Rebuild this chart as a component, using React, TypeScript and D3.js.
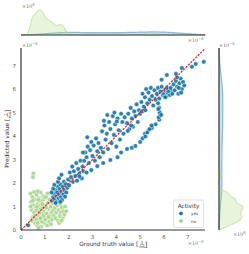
import React, { useEffect, useRef } from "react";
import * as d3 from "d3";

// Activity categories and their share of compounds (used for marginal density weighting)
const categories = ["yes", "no"];
const hueShare = [0.4, 0.6];
const bwAdjust = [1, 0.5];
const tickValues = [0, 1, 2, 3, 4, 5, 6, 7];

// [ground truth, predicted] in units of 1e-8
const yesPoints: [number, number][] = [
  [0.3, 0.2],
  [1.30, 1.25], [1.35, 1.40], [1.38, 1.55], [1.42, 1.30], [1.45, 1.70], [1.48, 1.45], [1.50, 1.20], [1.52, 1.60],
  [1.55, 1.85], [1.58, 1.35], [1.60, 1.50], [1.62, 1.75], [1.65, 1.95], [1.68, 1.40], [1.70, 1.62], [1.72, 1.28],
  [1.75, 1.85], [1.78, 1.52], [1.80, 2.05], [1.82, 1.70], [1.85, 1.42], [1.88, 1.95], [1.90, 1.60], [1.40, 1.92],
  [1.35, 1.75], [1.55, 2.05], [1.45, 1.15], [1.65, 1.20], [1.28, 1.60], [1.95, 1.80], [1.60, 2.20], [1.70, 2.35],
  [1.98, 2.15], [2.02, 1.90], [2.05, 2.45], [2.10, 2.25], [2.15, 2.70], [2.18, 2.05], [2.22, 2.50], [2.28, 2.30],
  [2.32, 2.85], [2.35, 2.10], [2.40, 2.60], [2.45, 2.40], [2.50, 2.95], [2.55, 2.20], [2.58, 2.70], [2.62, 2.50],
  [2.45, 2.28], [2.75, 2.45], [2.95, 2.55], [3.20, 2.72], [3.45, 2.85], [3.75, 2.98], [4.05, 3.10], [4.20, 3.30],
  [4.45, 3.45], [4.65, 3.50], [4.80, 3.58], [5.00, 3.75], [5.10, 3.90], [5.20, 4.10], [5.35, 4.25], [5.50, 4.35],
  [5.65, 4.50], [5.80, 4.70], [5.85, 4.95], [5.80, 5.20], [5.75, 5.40],
  [2.65, 2.95], [2.70, 3.30], [2.75, 3.10], [2.80, 3.55], [2.85, 2.85], [2.90, 3.40], [2.95, 3.75], [3.00, 3.15],
  [3.05, 3.60], [3.10, 2.95], [3.15, 3.90], [3.20, 3.35], [3.25, 3.70], [3.30, 3.10], [2.60, 3.30], [2.78, 3.95],
  [3.35, 3.50], [3.40, 4.20], [3.45, 3.30], [3.50, 4.45], [3.55, 3.85], [3.60, 4.10], [3.65, 3.45], [3.70, 4.60],
  [3.75, 4.30], [3.80, 3.70], [3.85, 4.85], [3.90, 4.05], [3.95, 4.50], [4.00, 3.55], [4.05, 4.75], [4.10, 4.25],
  [4.15, 3.85], [4.20, 4.95], [4.25, 4.60], [4.30, 4.10], [4.35, 4.80], [3.48, 4.65], [3.62, 4.90], [3.92, 5.00],
  [4.02, 4.62],
  [4.45, 4.55], [4.50, 4.95], [4.55, 4.30], [4.60, 5.20], [4.65, 4.75], [4.70, 4.40], [4.75, 5.05], [4.80, 4.85],
  [4.85, 5.35], [4.90, 4.60], [4.95, 5.10], [5.00, 4.95], [4.48, 4.22], [4.62, 4.45],
  [5.05, 5.45], [5.10, 5.80], [5.15, 5.25], [5.20, 5.65], [5.25, 6.00], [5.30, 5.40], [5.35, 5.85], [5.40, 5.55],
  [5.45, 6.05], [5.50, 5.70], [5.55, 5.30], [5.60, 5.95], [5.65, 5.55], [5.70, 5.80], [5.75, 6.05], [5.80, 5.60],
  [5.85, 5.90], [5.90, 6.10], [5.95, 5.75], [5.08, 5.05], [5.22, 5.10],
  [6.00, 5.80], [6.05, 5.95], [6.10, 5.70], [6.15, 5.85], [6.20, 6.00], [6.25, 5.75], [6.30, 5.90], [6.05, 5.65],
  [6.18, 5.92], [6.12, 6.05], [6.28, 6.05], [6.35, 5.80],
  [6.40, 6.20], [6.45, 5.95], [6.50, 6.35], [6.55, 6.10], [6.60, 5.80], [6.65, 6.25], [6.70, 6.45], [6.75, 6.00],
  [6.80, 6.30], [6.85, 6.15], [6.55, 6.50], [6.62, 6.05], [6.72, 5.85],
  [6.12, 6.60], [6.50, 6.65], [6.75, 6.90], [7.17, 6.95], [7.33, 7.07], [7.67, 7.16], [5.90, 6.40],
  [5.78, 4.80], [5.82, 5.00], [5.76, 5.15], [5.88, 4.90],
  [5.22, 3.98], [5.30, 4.15], [5.40, 4.30], [5.48, 4.45],
];

const noPoints: [number, number][] = [
  [0.40, 1.55], [0.42, 1.20], [0.45, 0.85], [0.48, 1.40], [0.50, 0.55], [0.52, 1.05], [0.55, 1.62], [0.58, 0.30],
  [0.60, 1.30], [0.45, 0.40], [0.55, 0.75], [0.62, 0.95], [0.40, 1.00], [0.50, 1.25], [0.58, 0.60],
  [0.65, 1.50], [0.68, 0.20], [0.70, 1.10], [0.72, 0.65], [0.75, 1.35], [0.78, 0.40], [0.80, 0.90], [0.82, 1.60],
  [0.85, 0.15], [0.88, 1.20], [0.90, 0.55], [0.92, 1.45], [0.95, 0.80], [0.98, 0.30], [1.00, 1.05], [0.66, 0.85],
  [0.74, 0.10], [0.86, 0.70], [0.94, 1.30], [0.70, 1.65], [0.80, 1.25], [0.76, 0.55],
  [0.64, 0.45], [0.68, 1.00], [0.72, 1.28], [0.78, 0.75], [0.84, 1.05], [0.88, 0.35], [0.92, 0.95], [0.96, 0.60],
  [0.70, 0.30], [0.82, 0.50], [0.90, 1.10], [0.98, 1.40],
  [1.02, 0.45], [1.05, 1.40], [1.08, 0.70], [1.10, 0.20], [1.12, 1.15], [1.15, 0.90], [1.18, 0.35], [1.20, 1.30],
  [1.22, 0.60], [1.25, 1.00], [1.28, 0.75], [1.30, 0.45], [1.32, 1.15], [1.35, 0.85], [1.38, 0.60], [1.05, 0.95],
  [1.15, 0.55], [1.25, 0.25], [1.35, 1.30], [1.12, 1.55],
  [1.42, 0.95], [1.45, 0.50], [1.48, 0.75], [1.52, 1.05], [1.55, 0.40], [1.58, 0.85], [1.62, 0.60], [1.65, 1.10],
  [1.68, 0.75], [1.72, 0.95], [1.75, 0.50], [1.78, 0.80], [1.82, 0.65], [1.85, 1.00], [1.90, 0.80], [1.60, 0.30],
  [1.70, 0.40],
  [0.52, 2.40], [0.50, 2.25],
];

const colors = { yes: "#1372a8", no: "#a6d38a" };
const kdeColors = { yes: "#4f97c4", no: "#b2df8a" };

function scottBw(v: number[]) {
  const sd = d3.deviation(v) || 1;
  return sd * Math.pow(v.length, -0.2);
}
function kde(v: number[], grid: number[], weight: number, adj: number) {
  const bw = scottBw(v) * adj;
  const c = 1 / (bw * Math.sqrt(2 * Math.PI));
  return grid.map((g) => [g, weight * c * (d3.mean(v, (x) => Math.exp(-0.5 * ((g - x) / bw) ** 2)) || 0)] as [number, number]);
}

function sup(sel: any, base: string, exp: string) {
  sel.append("tspan").text(base);
  sel.append("tspan").attr("font-size", 3.6).attr("dy", -2).text(exp);
}

export default function App() {
  const ref = useRef<SVGSVGElement>(null);
  useEffect(() => {
    const svg = d3.select(ref.current);
    svg.selectAll("*").remove();
    const font = "DejaVu Sans, sans-serif";
    const x = d3.scaleLinear().domain([0, 7.72]).range([21, 205]);
    const y = d3.scaleLinear().domain([0, 7.75]).range([230, 48]);

    const grid = d3.range(0, 7.75 + 1e-9, 0.02);
    const sets = [
      { key: "yes", pts: yesPoints, w: hueShare[0], a: bwAdjust[0] },
      { key: "no", pts: noPoints, w: hueShare[1], a: bwAdjust[1] },
    ];
    const dens = sets.map((s) => ({
      key: s.key,
      dx: kde(s.pts.map((p) => p[0]), grid, s.w, s.a),
      dy: kde(s.pts.map((p) => p[1]), grid, s.w, s.a),
    }));
    const dmaxX = d3.max(dens, (d) => d3.max(d.dx, (p) => p[1])) as number;
    const dmaxY = d3.max(dens, (d) => d3.max(d.dy, (p) => p[1])) as number;
    const topD = d3.scaleLinear().domain([0, dmaxX]).range([35, 10]);
    const rightD = d3.scaleLinear().domain([0, dmaxY]).range([219, 243]);

    dens.forEach((d) => {
      const col = (kdeColors as any)[d.key];
      const area = d3.area<[number, number]>().x((p) => x(p[0])).y0(35).y1((p) => topD(p[1])).curve(d3.curveBasis);
      const line = d3.line<[number, number]>().x((p) => x(p[0])).y((p) => topD(p[1])).curve(d3.curveBasis);
      svg.append("path").attr("d", area(d.dx)).attr("fill", col).attr("fill-opacity", 0.3);
      svg.append("path").attr("d", line(d.dx)).attr("fill", "none").attr("stroke", col).attr("stroke-opacity", 0.6).attr("stroke-width", 1.2);
      const areaR = d3.area<[number, number]>().y((p) => y(p[0])).x0(219).x1((p) => rightD(p[1])).curve(d3.curveBasis);
      const lineR = d3.line<[number, number]>().y((p) => y(p[0])).x((p) => rightD(p[1])).curve(d3.curveBasis);
      svg.append("path").attr("d", areaR(d.dy)).attr("fill", col).attr("fill-opacity", 0.3);
      svg.append("path").attr("d", lineR(d.dy)).attr("fill", "none").attr("stroke", col).attr("stroke-opacity", 0.6).attr("stroke-width", 1.2);
    });
    svg.append("line").attr("x1", 21).attr("x2", 205).attr("y1", 35).attr("y2", 35).attr("stroke", "#333").attr("stroke-width", 1.2);
    svg.append("line").attr("x1", 219).attr("x2", 219).attr("y1", 48).attr("y2", 230).attr("stroke", "#333").attr("stroke-width", 1.2);

    const drawPts = (pts: [number, number][], col: string) => {
      svg.append("g").selectAll("circle").data(pts).join("circle")
        .attr("cx", (p) => x(p[0])).attr("cy", (p) => y(p[1])).attr("r", 2.3)
        .attr("fill", col).attr("fill-opacity", 0.9).attr("stroke", "#fff").attr("stroke-width", 0.5);
    };
    drawPts(noPoints, colors.no);
    drawPts(yesPoints, colors.yes);

    svg.append("line").attr("x1", x(0)).attr("y1", y(0)).attr("x2", x(7.72)).attr("y2", y(7.72))
      .attr("stroke", "#e0201b").attr("stroke-width", 1.2).attr("stroke-dasharray", "2.2,1.2");

    svg.append("line").attr("x1", 21).attr("x2", 21).attr("y1", 48).attr("y2", 230).attr("stroke", "#333").attr("stroke-width", 1.2);
    svg.append("line").attr("x1", 21).attr("x2", 205).attr("y1", 230).attr("y2", 230).attr("stroke", "#333").attr("stroke-width", 1.2);

    const tl = svg.append("g").attr("font-family", font).attr("font-size", 5.5).attr("fill", "#555");
    tickValues.forEach((t) => {
      tl.append("text").attr("x", x(t)).attr("y", 238.5).attr("text-anchor", "middle").text(String(t));
      tl.append("text").attr("x", 16).attr("y", y(t) + 2).attr("text-anchor", "end").text(String(t));
    });

    const off = svg.append("g").attr("font-family", "DejaVu Serif, serif").attr("font-size", 4.8).attr("fill", "#666");
    sup(off.append("text").attr("x", 22).attr("y", 8), "×10", "8");
    sup(off.append("text").attr("x", 22).attr("y", 47), "×10", "−8");
    sup(off.append("text").attr("x", 188).attr("y", 42), "×10", "−8");
    sup(off.append("text").attr("x", 219).attr("y", 47), "×10", "−8");
    sup(off.append("text").attr("x", 188).attr("y", 245), "×10", "−8");
    sup(off.append("text").attr("x", 233).attr("y", 236), "×10", "8");

    const label = (g: any, txt: string) => {
      const t = g.append("text").attr("font-family", font).attr("font-size", 5.8).attr("fill", "#333").attr("x", 0).attr("y", 0).text(txt);
      const w = (t.node() as SVGTextElement).getComputedTextLength();
      const fx = w + 1.5;
      g.append("text").attr("font-family", font).attr("font-size", 4).attr("fill", "#333").attr("x", fx + 2.2).attr("y", -2.2).attr("text-anchor", "middle").text("1");
      g.append("line").attr("x1", fx + 0.2).attr("x2", fx + 4.4).attr("y1", -1.5).attr("y2", -1.5).attr("stroke", "#333").attr("stroke-width", 0.35);
      g.append("text").attr("font-family", font).attr("font-size", 4).attr("fill", "#333").attr("x", fx + 2.3).attr("y", 2.2).attr("text-anchor", "middle").text("ms");
      g.append("text").attr("font-family", font).attr("font-size", 7).attr("fill", "#333").attr("x", fx + 5).attr("y", 0.8).text("]");
      return w + 8.5;
    };
    const gx = svg.append("g");
    const wx = label(gx, "Ground truth value [");
    gx.attr("transform", `translate(${113 - wx / 2},246)`);
    const gy = svg.append("g");
    const wy = label(gy, "Predicted value [");
    gy.attr("transform", `translate(9,${139 + wy / 2}) rotate(-90)`);

    const lg = svg.append("g").attr("font-family", font);
    lg.append("rect").attr("x", 173.5).attr("y", 200).attr("width", 30).attr("height", 27.5).attr("rx", 1.5)
      .attr("fill", "#fff").attr("fill-opacity", 0.85).attr("stroke", "#ccc").attr("stroke-width", 0.6);
    lg.append("text").attr("x", 188.5).attr("y", 207.5).attr("text-anchor", "middle").attr("font-size", 5.8).attr("fill", "#333").text("Activity");
    categories.forEach((c, i) => {
      const yy = 213.5 + i * 7.5;
      lg.append("circle").attr("cx", 181).attr("cy", yy).attr("r", 2.1).attr("fill", (colors as any)[c]).attr("stroke", "#fff").attr("stroke-width", 0.4);
      lg.append("text").attr("x", 191).attr("y", yy + 1.5).attr("font-size", 4.2).attr("fill", "#444").text(c);
    });
  }, []);
  return (
    <svg ref={ref} width={249} height={254} style={{ position: "absolute", left: 0, top: 0, background: "#fff" }} />
  );
}
